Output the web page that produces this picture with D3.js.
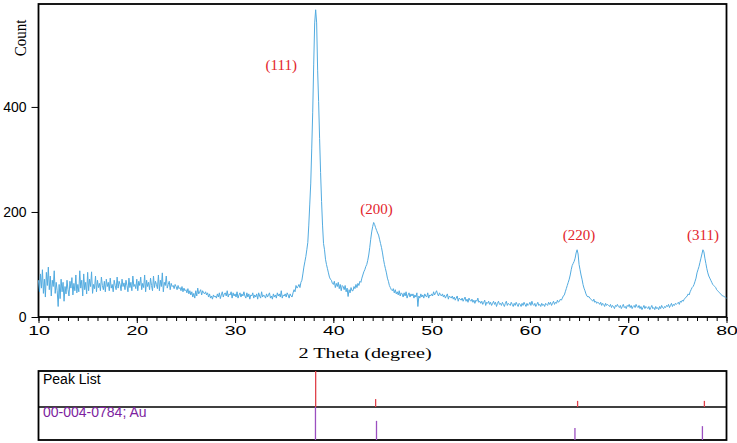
<!DOCTYPE html>
<html>
<head>
<meta charset="utf-8">
<script src="https://cdn.jsdelivr.net/npm/d3@7"></script>
<style>
  body { margin: 0; background: #fff; }
  svg { display: block; }
</style>
</head>
<body>
<div class="chart"></div>
<script>
// XRD scan, 2 theta from 10 to 80 deg, step 0.1 (one row per degree)
var startAngle = 10;
var stepAngle = 0.1;
var counts = [
  70,48,82,55,90,45,72,38,85,60,     // 10
  95,52,78,40,70,58,88,45,66,50,     // 11
  20,62,35,72,48,66,30,58,44,70,     // 12
  52,40,68,55,75,42,64,50,80,46,     // 13
  62,48,88,55,70,40,82,52,66,44,     // 14
  85,50,72,58,86,45,62,54,78,48,     // 15
  70,56,64,50,76,60,52,68,48,72,     // 16
  58,66,50,74,55,62,48,70,60,52,     // 17
  76,55,68,62,50,72,58,65,52,70,     // 18
  60,48,74,56,66,50,78,58,62,54,     // 19
  72,50,68,60,76,52,64,56,80,48,     // 20
  70,58,66,52,74,60,50,78,56,68,     // 21
  62,54,80,50,70,58,84,48,66,60,     // 22
  78,55,62,68,52,64,58,60,54,62,     // 23
  58,52,60,54,56,50,58,48,55,50,     // 24
  52,46,54,44,50,42,48,38,45,36,     // 25
  50,40,55,44,48,52,42,50,46,44,     // 26
  48,42,46,38,44,36,40,34,42,38,     // 27
  40,36,44,38,46,35,42,48,38,44,     // 28
  46,40,50,38,44,42,48,36,46,40,     // 29
  44,38,48,36,42,46,38,44,40,48,     // 30
  40,36,46,38,44,34,42,40,46,36,     // 31
  42,38,44,34,46,40,36,48,38,42,     // 32
  40,36,44,38,42,46,36,40,34,44,     // 33
  38,42,36,46,40,44,38,50,36,42,     // 34
  40,44,38,46,42,36,44,40,38,46,     // 35
  52,48,60,55,58,62,56,66,70,82,     // 36
  95,105,115,128,142,175,215,255,320,390,   // 37
  480,560,585,560,470,410,340,275,220,175,  // 38
  140,128,110,100,92,84,76,72,70,64, // 39
  62,68,56,64,58,66,54,62,50,60,     // 40
  58,52,60,48,55,39,52,46,56,50,     // 41
  50,58,54,62,56,64,60,68,66,74,     // 42
  80,86,90,96,100,108,118,132,148,162, // 43
  172,180,176,170,165,160,156,148,140,132, // 44
  122,110,100,92,84,74,68,60,56,52,  // 45
  50,54,46,52,44,48,42,50,40,46,     // 46
  44,38,46,40,48,36,42,46,38,44,     // 47
  40,44,36,42,38,46,20,40,36,44,     // 48
  38,42,36,44,40,38,46,36,42,40,     // 49
  44,40,48,42,46,50,44,40,46,42,     // 50
  40,44,38,42,36,40,44,34,40,38,     // 51
  36,40,34,38,32,36,40,30,36,34,     // 52
  32,36,30,34,38,30,34,28,36,32,     // 53
  30,34,28,32,26,32,30,36,28,30,     // 54
  26,30,24,28,32,22,28,26,30,24,     // 55
  28,22,26,30,24,28,20,26,30,24,     // 56
  26,22,28,24,20,26,30,22,26,24,     // 57
  22,28,24,20,26,22,28,24,20,26,     // 58
  24,20,26,22,28,24,20,26,22,24,     // 59
  28,22,30,24,22,26,20,24,28,22,     // 60
  24,20,26,22,24,20,26,24,22,28,     // 61
  24,28,22,26,30,24,28,26,32,28,     // 62
  30,34,32,36,40,42,48,54,60,66,     // 63
  72,80,90,98,102,106,112,122,128,120, // 64
  100,90,80,72,62,55,50,44,40,38,    // 65
  39,36,34,32,30,34,28,30,26,28,     // 66
  27,24,28,22,26,24,20,26,22,24,     // 67
  22,20,24,18,22,20,16,22,20,24,     // 68
  20,18,22,16,20,24,18,20,16,22,     // 69
  20,24,18,22,16,20,22,18,24,20,     // 70
  18,22,16,20,14,18,22,16,20,18,     // 71
  16,20,14,18,22,16,18,14,20,16,     // 72
  18,14,20,16,22,18,16,20,18,22,     // 73
  20,24,18,22,26,20,24,22,26,24,     // 74
  26,28,24,30,28,32,30,34,36,38,     // 75
  40,44,42,48,52,56,58,62,68,74,     // 76
  84,90,96,104,112,120,128,124,112,102, // 77
  92,84,78,74,70,66,62,60,58,56,     // 78
  52,50,48,46,44,42,40,40,38,37,     // 79
  36                                 // 80
];

var peakLabels = ["(111)", "(200)", "(220)", "(311)"];
var peakLabelAngle = [34.7, 44.4, 65.0, 77.6];
var peakLabelCount = [470, 196, 147, 147];

// peak list found in the scan (2theta, rel. intensity)
var peakListAngle = [38.2, 44.3, 64.85, 77.75];
var peakListInt = [100, 22, 17, 17];

// reference card 00-004-0784 Au
var refAngle = [38.18, 44.39, 64.58, 77.55];
var refInt = [100, 58, 36, 42];

var xTicks = [10, 20, 30, 40, 50, 60, 70, 80];
var yTicks = [0, 200, 400];

var svgWidth = 737;
var svgHeight = 443;
var plotLeft = 38.5, plotRight = 726.5, plotTop = 4, plotBottom = 317;

var svg = d3.select(".chart")
  .append("svg")
  .attr("width", svgWidth)
  .attr("height", svgHeight);

var x = d3.scaleLinear().domain([10, 80]).range([plotLeft, plotRight]);
var y = d3.scaleLinear().domain([0, 596]).range([plotBottom, plotTop]);

var data = counts.map(function(c, i) {
  return { t: startAngle + i * stepAngle, c: c };
});

// minor ticks on x
svg.append("g")
  .attr("transform", "translate(0," + plotBottom + ")")
  .call(d3.axisBottom(x).ticks(70).tickSize(4).tickFormat(""))
  .call(function(g) { g.select(".domain").remove(); });

var xAxis = svg.append("g")
  .attr("transform", "translate(0," + plotBottom + ")")
  .call(d3.axisBottom(x).tickValues(xTicks).tickSize(6).tickFormat(d3.format("d")));
xAxis.select(".domain").remove();
xAxis.selectAll("text")
  .attr("font-family", "Liberation Sans, Arial, sans-serif")
  .attr("font-size", "13px")
  .attr("fill", "#000")
  .attr("y", 9)
  .attr("transform", "scale(1.5,1)");

var yAxis = svg.append("g")
  .attr("transform", "translate(" + plotLeft + ",0)")
  .call(d3.axisLeft(y).tickValues(yTicks).tickSize(7));
yAxis.select(".domain").remove();
yAxis.selectAll("text")
  .attr("font-family", "Liberation Sans, Arial, sans-serif")
  .attr("font-size", "14px")
  .attr("fill", "#000")
  .attr("x", -12);

// plot frame
svg.append("rect")
  .attr("x", plotLeft)
  .attr("y", plotTop)
  .attr("width", plotRight - plotLeft)
  .attr("height", plotBottom - plotTop)
  .attr("fill", "none")
  .attr("stroke", "#000")
  .attr("stroke-width", 1.8);

var line = d3.line()
  .x(function(d) { return x(d.t); })
  .y(function(d) { return y(d.c); });

svg.append("path")
  .datum(data)
  .attr("d", line)
  .attr("fill", "none")
  .attr("stroke", "#52abe0")
  .attr("stroke-width", 1)
  .attr("stroke-linejoin", "round");

svg.selectAll(".peakLabel")
  .data(peakLabels)
  .enter()
  .append("text")
  .attr("class", "peakLabel")
  .attr("x", function(d, i) { return x(peakLabelAngle[i]); })
  .attr("y", function(d, i) { return y(peakLabelCount[i]); })
  .attr("text-anchor", "middle")
  .attr("font-family", "Liberation Serif, Times New Roman, serif")
  .attr("font-size", "15px")
  .attr("fill", "#e3242b")
  .text(function(d) { return d; });

// axis titles
svg.append("text")
  .attr("transform", "translate(26,38) rotate(-90) scale(1,1.15)")
  .attr("text-anchor", "middle")
  .attr("font-family", "Liberation Serif, Times New Roman, serif")
  .attr("font-size", "15px")
  .text("Count");

svg.append("text")
  .attr("transform", "translate(365,358) scale(1.35,1)")
  .attr("text-anchor", "middle")
  .attr("font-family", "Liberation Serif, Times New Roman, serif")
  .attr("font-size", "15px")
  .text("2 Theta (degree)");

// peak list / reference panel
var panelTop = 371, panelMid = 407, panelBottom = 440;

svg.append("rect")
  .attr("x", plotLeft)
  .attr("y", panelTop)
  .attr("width", plotRight - plotLeft)
  .attr("height", panelBottom - panelTop)
  .attr("fill", "none")
  .attr("stroke", "#000")
  .attr("stroke-width", 1.8);

svg.append("line")
  .attr("x1", plotLeft).attr("x2", plotRight)
  .attr("y1", panelMid).attr("y2", panelMid)
  .attr("stroke", "#000")
  .attr("stroke-width", 1.3);

var rowTop = d3.scaleLinear().domain([0, 100]).range([panelMid, panelTop]);
var rowBottom = d3.scaleLinear().domain([0, 100]).range([panelBottom, panelMid]);

svg.selectAll(".peakList")
  .data(peakListAngle)
  .enter()
  .append("line")
  .attr("class", "peakList")
  .attr("x1", function(d) { return x(d); })
  .attr("x2", function(d) { return x(d); })
  .attr("y1", panelMid)
  .attr("y2", function(d, i) { return rowTop(peakListInt[i]); })
  .attr("stroke", "#e0404a")
  .attr("stroke-width", 1.3);

svg.selectAll(".refLine")
  .data(refAngle)
  .enter()
  .append("line")
  .attr("class", "refLine")
  .attr("x1", function(d) { return x(d); })
  .attr("x2", function(d) { return x(d); })
  .attr("y1", panelBottom)
  .attr("y2", function(d, i) { return rowBottom(refInt[i]); })
  .attr("stroke", "#9b4fc0")
  .attr("stroke-width", 1.3);

svg.append("text")
  .attr("x", 43)
  .attr("y", 384)
  .attr("font-family", "Liberation Sans, Arial, sans-serif")
  .attr("font-size", "14px")
  .text("Peak List");

svg.append("text")
  .attr("x", 43)
  .attr("y", 417)
  .attr("font-family", "Liberation Sans, Arial, sans-serif")
  .attr("font-size", "14px")
  .attr("fill", "#7d1fa0")
  .text("00-004-0784; Au");
</script>
</body>
</html>
